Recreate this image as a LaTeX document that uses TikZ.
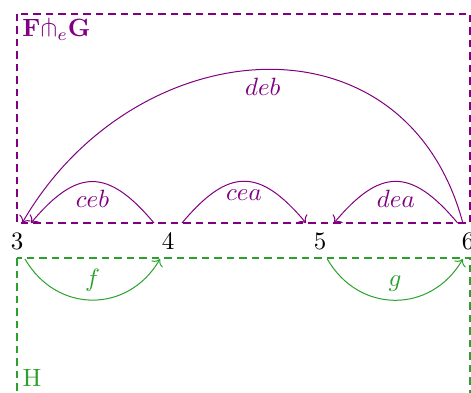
\documentclass[tikz,border=0pt]{standalone}
\usepackage{amsmath,amssymb}
\usepackage{tikz}
\usetikzlibrary{arrows.meta,positioning}
\definecolor{plum}{RGB}{128,0,128}
\definecolor{leaf}{RGB}{44,160,44}

\begin{document}
\begin{tikzpicture}[x=0.4pt,y=0.4pt,
  vtx/.style={minimum width=11.2pt,minimum height=14.4pt,inner sep=0pt,outer sep=0pt},
  frame/.style={line width=0.5pt,dash pattern=on 3pt off 2pt}]
\useasboundingbox (0,0) rectangle (471,-392);
\clip (0,0) rectangle (471,-392);
% the four points
\node[vtx] (n3) at (17,-241) {$3$};
\node[vtx] (n4) at (168,-241) {$4$};
\node[vtx] (n5) at (320,-241) {$5$};
\node[vtx] (n6) at (468,-241) {$6$};
% the two boxes
\draw[frame,draw=plum] (17,-14) rectangle (470,-223);
\draw[frame,draw=leaf] (17,-258) rectangle (470,-420);
\node[plum,anchor=north west,inner sep=2pt] (fg) at (17,-14) {$\mathbf{F}{\pitchfork_e}\mathbf{G}$};
\node[leaf] (h) at (32,-378) {$\mathrm{H}$};
% upper arrows
\draw[plum,->] (n6.106) to[out=105,in=60,looseness=1.3] node[below] {$deb$} (n3.74);
\draw[plum,->] (n4.north west) to[out=130,in=50,looseness=1.5] node[below] {$ceb$} (n3.north east);
\draw[plum,->] (n4.north east) to[out=50,in=130,looseness=1.5] node[below] {$cea$} (n5.north west);
\draw[plum,->] (n6.120) to[out=130,in=50,looseness=1.5] node[below] {$dea$} (n5.north east);
% lower arrows
\draw[leaf,->] (n3.-66) to[out=-60,in=-120,looseness=1.2] node[above] {$f$} (n4.-114);
\draw[leaf,->] (n5.-68) to[out=-60,in=-120,looseness=1.2] node[above] {$g$} (n6.-106);
\end{tikzpicture}
\end{document}
